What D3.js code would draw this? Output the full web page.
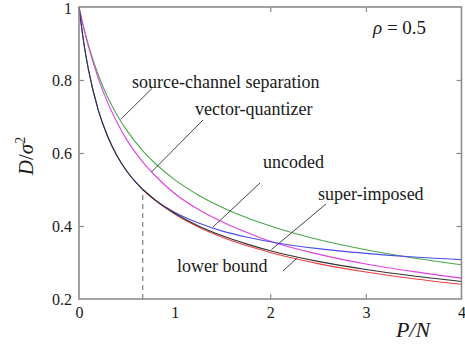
<!DOCTYPE html>
<html><head><meta charset="utf-8"><script src="https://cdn.jsdelivr.net/npm/d3@7"></script></head>
<body style="margin:0">
<svg id="chart" width="465" height="345"></svg>
<script>
// ---- data ----
const pn = [0, 0.05, 0.1, 0.2, 0.3, 0.4, 0.5, 0.667, 0.8, 1, 1.25, 1.5, 1.75, 2, 2.5, 3, 3.5, 4];
const separation = [1, 0.9425, 0.894, 0.815, 0.7525, 0.703, 0.662, 0.606, 0.5705, 0.527, 0.4845, 0.4505, 0.423, 0.40, 0.363, 0.335, 0.3125, 0.294];
const vectorQuantizer = [1, 0.942, 0.891, 0.806, 0.738, 0.683, 0.636, 0.575, 0.537, 0.489, 0.445, 0.411, 0.383, 0.358, 0.323, 0.296, 0.275, 0.257];
const uncoded = [1, 0.902, 0.827, 0.719, 0.645, 0.591, 0.55, 0.5, 0.471, 0.4375, 0.408, 0.386, 0.370, 0.357, 0.338, 0.325, 0.315, 0.308];
const pnHigh = [0.667, 0.8, 1, 1.25, 1.5, 1.75, 2, 2.5, 3, 3.5, 4];
const lowerBound = [0.5, 0.4697, 0.433, 0.3974, 0.3693, 0.3464, 0.3273, 0.297, 0.2739, 0.2554, 0.2402];
const superImposed = [0.5, 0.4702, 0.435, 0.400, 0.373, 0.351, 0.332, 0.303, 0.281, 0.263, 0.248];
const pnLow = [0, 0.05, 0.1, 0.2, 0.3, 0.4, 0.5, 0.667];
const optimalLow = [1, 0.902, 0.827, 0.719, 0.645, 0.591, 0.55, 0.5];
const threshold = 0.667;
const xTicks = [0, 1, 2, 3, 4];
const yTicks = [0.2, 0.4, 0.6, 0.8, 1];

// ---- layout ----
const svg = d3.select("#chart");
const x = d3.scaleLinear().domain([0, 4]).range([79, 461.5]);
const y = d3.scaleLinear().domain([0.2, 1]).range([299, 7]);
const frameColor = "#8c8c8c";

// curves
const line = (xs) => d3.line().x((d, i) => x(xs[i])).y(d => y(d)).curve(d3.curveMonotoneX);
const curves = [
  { xs: pn, ys: separation, color: "#4aa84a" },
  { xs: pn, ys: vectorQuantizer, color: "#e040e0" },
  { xs: pn, ys: uncoded, color: "#4c4cf0" },
  { xs: pnHigh, ys: lowerBound, color: "#f04040" },
  { xs: pnHigh, ys: superImposed, color: "#333333" },
  { xs: pnLow, ys: optimalLow, color: "#333333" }
];
svg.append("g").selectAll("path").data(curves).join("path")
  .attr("d", c => line(c.xs)(c.ys))
  .attr("fill", "none")
  .attr("stroke", c => c.color)
  .attr("stroke-width", 1.1);

// dashed threshold line
svg.append("line")
  .attr("x1", x(threshold)).attr("x2", x(threshold))
  .attr("y1", y(0.2)).attr("y2", y(0.5))
  .attr("stroke", "#777").attr("stroke-width", 1.1)
  .attr("stroke-dasharray", "5,4");

// frame
svg.append("rect")
  .attr("x", x(0)).attr("y", y(1))
  .attr("width", x(4) - x(0)).attr("height", y(0.2) - y(1))
  .attr("fill", "none").attr("stroke", frameColor).attr("stroke-width", 1.6);

// axes with inward ticks
const xb = d3.axisBottom(x).tickValues(xTicks).tickSize(-5).tickPadding(8).tickFormat(d3.format("d"));
const xt = d3.axisTop(x).tickValues([1, 2, 3]).tickSize(-5).tickFormat("");
const yl = d3.axisLeft(y).tickValues(yTicks).tickSize(-5).tickPadding(7).tickFormat(d => d === 1 ? "1" : d3.format(".1f")(d));
const yr = d3.axisRight(y).tickValues([0.4, 0.6, 0.8]).tickSize(-5).tickFormat("");

function styleAxis(g) {
  g.attr("font-family", null).attr("font-size", null);
  g.select(".domain").remove();
  g.selectAll(".tick line").attr("stroke", frameColor).attr("stroke-width", 1.2);
  g.selectAll(".tick text").attr("fill", "#1a1a1a").attr("font-size", 16);
}
svg.append("g").attr("transform", `translate(0,${y(0.2)})`).call(xb).call(styleAxis);
svg.append("g").attr("transform", `translate(0,${y(1)})`).call(xt).call(styleAxis);
const yAxisG = svg.append("g").attr("transform", `translate(${x(0)},0)`).call(yl).call(styleAxis);
svg.append("g").attr("transform", `translate(${x(4)},0)`).call(yr).call(styleAxis);
// corner ticks sit on the frame
svg.selectAll(".tick line").filter(d => d === 0 || d === 4 || d === 0.2 || d === 1).remove();
// keep the top "1" label inside the picture
yAxisG.selectAll(".tick text").filter(d => d === 1).attr("dy", "0.42em");

// axis titles
svg.append("text").attr("x", 413).attr("y", 337).attr("text-anchor", "middle")
  .attr("font-size", 22).attr("font-style", "italic").attr("fill", "#1a1a1a").text("P/N");
svg.append("text").attr("transform", "translate(33,156) rotate(-90)").attr("text-anchor", "middle")
  .attr("font-size", 21).attr("fill", "#1a1a1a")
  .html('<tspan font-style="italic">D</tspan>/<tspan font-style="italic">σ</tspan><tspan dy="-8" font-size="14">2</tspan>');

// rho annotation
svg.append("text").attr("x", 373).attr("y", 34).attr("font-size", 19).attr("fill", "#1a1a1a")
  .html('<tspan font-style="italic">ρ</tspan> = 0.5');

// labels and leader lines
const labels = [
  { text: "source-channel separation", tx: 132, ty: 88, l: [121.5, 118.5, 152, 88.5] },
  { text: "vector-quantizer", tx: 195, ty: 115, l: [151.5, 172, 203, 120] },
  { text: "uncoded", tx: 263, ty: 168, l: [213, 227, 260, 183] },
  { text: "super-imposed", tx: 318, ty: 200, l: [271.5, 249.5, 326, 204] },
  { text: "lower bound", tx: 177, ty: 272, l: [283, 271, 297, 258] }
];
svg.append("g").selectAll("line").data(labels).join("line")
  .attr("x1", d => d.l[0]).attr("y1", d => d.l[1]).attr("x2", d => d.l[2]).attr("y2", d => d.l[3])
  .attr("stroke", "#444").attr("stroke-width", 1);
svg.append("g").selectAll("text").data(labels).join("text")
  .attr("x", d => d.tx).attr("y", d => d.ty)
  .attr("font-size", 18).attr("fill", "#1a1a1a").text(d => d.text);

// serif typeface on every text
svg.selectAll("text").attr("font-family", "Liberation Serif").style("font-family", "Liberation Serif");
</script>
</body>
</html>
